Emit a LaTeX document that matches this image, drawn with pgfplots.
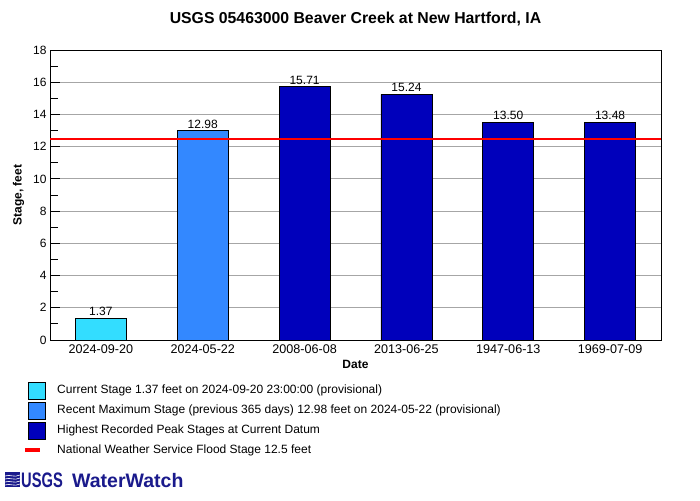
\documentclass[border=0pt]{standalone}
\usepackage{pgfplots}
\pgfplotsset{compat=1.18}
\usepackage{fontspec}
\setmainfont{Liberation Sans}
\definecolor{curC}{HTML}{33DDFF}
\definecolor{recC}{HTML}{3388FF}
\definecolor{peakC}{HTML}{0000BB}
\definecolor{logoC}{HTML}{1A1A8C}
\begin{document}
\begin{tikzpicture}
\path[fill=white] (0pt,0pt) rectangle (700pt,500pt);
\begin{axis}[
  at={(50pt,160pt)}, anchor=south west,
  scale only axis, width=611pt, height=290pt,
  xmin=-0.5, xmax=5.5, ymin=0, ymax=18,
  xtick={0,1,2,3,4,5},
  xticklabels={2024-09-20,2024-05-22,2008-06-08,2013-06-25,1947-06-13,1969-07-09},
  ytick={0,2,...,18},
  minor y tick num=1,
  ytick pos=left,
  tick align=inside,
  major tick length=10pt,
  minor tick length=8pt,
  x tick style={draw=none},
  y tick style={black, line width=0.8pt},
  ymajorgrids,
  major grid style={gray!70, line width=0.8pt},
  axis line style={black, line width=0.8pt},
  tick label style={font=\fontsize{12}{14}\selectfont},
  xticklabel style={font=\fontsize{12.6}{14}\selectfont, yshift=-1pt},
  /pgf/number format/assume math mode=true,
  xlabel={\bfseries Date},
  ylabel={\bfseries Stage, feet},
  xlabel style={font=\fontsize{12}{14}\selectfont, yshift=0pt},
  ylabel style={font=\fontsize{12}{14}\selectfont, yshift=2pt},
  title={\bfseries USGS 05463000 Beaver Creek at New Hartford, IA},
  title style={font=\fontsize{15.8}{18}\selectfont, yshift=15pt},
  nodes near coords={\pgfmathprintnumber[fixed,fixed zerofill,precision=2]{\pgfplotspointmeta}},
  every node near coord/.append style={font=\fontsize{12}{14}\selectfont, yshift=-1pt},
]
\addplot[ybar, bar width=51pt, fill=curC, draw=black, line width=0.8pt] coordinates {(0,1.37)};
\addplot[ybar, bar width=51pt, fill=recC, draw=black, line width=0.8pt] coordinates {(1,12.98)};
\addplot[ybar, bar width=51pt, fill=peakC, draw=black, line width=0.8pt] coordinates {(2,15.71) (3,15.24) (4,13.50) (5,13.48)};
\addplot[red, line width=2pt, forget plot, nodes near coords={}] coordinates {(-0.5,12.45) (5.5,12.45)};
\end{axis}
% legend
\begin{scope}[every node/.style={font=\fontsize{12}{14}\selectfont, anchor=west, inner sep=0pt}]
\draw[fill=curC, line width=0.8pt] (28pt,101pt) rectangle (45pt,118pt);
\node at (57pt,110pt) {Current Stage 1.37 feet on 2024-09-20 23:00:00 (provisional)};
\draw[fill=recC, line width=0.8pt] (28pt,81pt) rectangle (45pt,98pt);
\node at (57pt,90pt) {Recent Maximum Stage (previous 365 days) 12.98 feet on 2024-05-22 (provisional)};
\draw[fill=peakC, line width=0.8pt] (28pt,61pt) rectangle (45pt,78pt);
\node at (57pt,70pt) {Highest Recorded Peak Stages at Current Datum};
\fill[red] (25pt,48pt) rectangle (40pt,52pt);
\node at (57pt,50pt) {National Weather Service Flood Stage 12.5 feet};
\end{scope}
% logo
\begin{scope}[logoC]
\fill (5pt,13pt) rectangle (20pt,28pt);
\foreach \yy in {15,18,21,24} {\draw[white, line width=0.6pt] (5pt,\yy pt) .. controls (10pt,\yy pt+2pt) and (14pt,\yy pt-2pt) .. (20pt,\yy pt+1pt);}
\node[anchor=base west, inner sep=0pt, font=\fontsize{21}{22}\selectfont\bfseries, text=logoC] at (21pt,13pt) {\scalebox{0.7}[1]{USGS}};
\node[anchor=base west, inner sep=0pt, font=\fontsize{19.5}{22}\selectfont\bfseries, text=logoC] at (72pt,13pt) {WaterWatch};
\end{scope}
\end{tikzpicture}
\end{document}
